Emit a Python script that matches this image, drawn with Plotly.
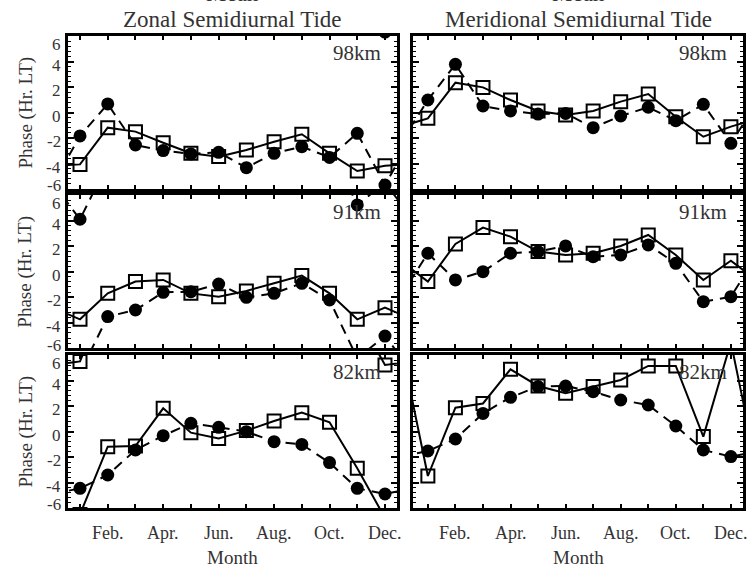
import plotly.graph_objects as go

# Monthly mean semidiurnal tidal phase (hours LT), unwrapped month to month.
# The phase repeats every 12 h, so the curves are also drawn shifted by +-12 h.
months = list(range(1, 13))
month_labels = ["", "Feb.", "", "Apr.", "", "Jun.", "", "Aug.", "", "Oct.", "", "Dec."]
phase_ticks = [6, 4, 2, 0, -2, -4, -6]

zonal_98_sq = [-4.07, -1.19, -1.50, -2.37, -3.20, -3.46, -2.94, -2.29, -1.71, -3.20, -4.59, -4.17]
zonal_98_ci = [-1.84, 0.67, -2.55, -2.99, -3.25, -3.12, -4.33, -3.20, -2.68, -3.52, -1.63, -5.69]
merid_98_sq = [-0.46, 2.34, 1.97, 0.98, 0.12, -0.20, 0.12, 0.85, 1.45, -0.33, -1.90, -1.11]
merid_98_ci = [0.98, 3.78, 0.51, 0.12, -0.12, -0.07, -1.19, -0.27, 0.41, -0.64, 0.64, -2.42]
zonal_91_sq = [-3.73, -1.70, -0.78, -0.65, -1.70, -1.96, -1.51, -0.91, -0.31, -1.70, -3.73, -2.82]
zonal_91_ci = [-7.90, -3.52, -3.00, -1.62, -1.57, -0.97, -2.01, -1.70, -0.91, -2.22, -6.78, -5.04]
merid_91_sq = [-0.78, 2.17, 3.45, 2.74, 1.57, 1.31, 1.44, 2.01, 2.87, 1.31, -0.65, 0.86]
merid_91_ci = [1.44, -0.65, 0.00, 1.44, 1.57, 2.01, 1.17, 1.31, 2.09, 0.65, -2.35, -1.96]
zonal_82_sq = [-6.50, -1.19, -1.14, 1.82, -0.09, -0.54, 0.07, 0.82, 1.48, 0.72, -2.89, -6.78]
zonal_82_ci = [-4.46, -3.41, -1.45, -0.33, 0.64, 0.33, -0.01, -0.80, -1.01, -2.44, -4.46, -4.90]
merid_82_sq = [-3.49, 1.87, 2.20, 4.88, 3.57, 3.00, 3.52, 4.04, 5.14, 5.14, -0.40, 7.00]
merid_82_ci = [-1.53, -0.59, 1.42, 2.68, 3.52, 3.57, 3.12, 2.47, 2.08, 0.43, -1.45, -1.97]

FULL = (-12, 0, 12)
# (row, col, height label, squares, circles, square copies, circle copies)
panels = [
    (1, 1, "98km", zonal_98_sq, zonal_98_ci, FULL, FULL),
    (1, 2, "98km", merid_98_sq, merid_98_ci, FULL, FULL),
    (2, 1, "91km", zonal_91_sq, zonal_91_ci, FULL, FULL),
    (2, 2, "91km", merid_91_sq, merid_91_ci, FULL, FULL),
    (3, 1, "82km", zonal_82_sq, zonal_82_ci, FULL, FULL),
    (3, 2, "82km", merid_82_sq, merid_82_ci, (0, 12), FULL),
]

W, H = 751, 568
FONT = "Liberation Serif"
INK = "#1a1a1a"
TEXT = "#333333"

col_px = {1: (68, 397), 2: (413, 743)}
col_range = {1: [0.567, 12.433], 2: [0.46, 12.44]}
row_px = {1: (36, 189), 2: (195, 348.3), 3: (355, 508)}


def px_x(p):
    return p / W


def px_y(p):
    return 1 - p / H


fig = go.Figure()
layout = dict(
    width=W, height=H,
    margin=dict(l=0, r=0, t=0, b=0),
    paper_bgcolor="white", plot_bgcolor="white",
    showlegend=False,
    font=dict(family=FONT, color=INK),
)
annotations = []


def extend(vals):
    # periodic in month: December precedes January, January follows December
    return [vals[-1]] + list(vals) + [vals[0]]


xs = [0] + months + [13]

for i, (r, c, label, sq, ci, sq_copies, ci_copies) in enumerate(panels, start=1):
    xa = "x" if i == 1 else f"x{i}"
    ya = "y" if i == 1 else f"y{i}"
    x0, x1 = col_px[c]
    y0, y1 = row_px[r]

    for off in sq_copies:
        fig.add_trace(go.Scatter(
            x=xs, y=[v + off for v in extend(sq)], xaxis=xa, yaxis=ya,
            mode="lines+markers",
            line=dict(color="black", width=2),
            marker=dict(symbol="square-open", size=13, color="black",
                        line=dict(width=2, color="black")),
            hoverinfo="skip",
        ))
    for off in ci_copies:
        fig.add_trace(go.Scatter(
            x=xs, y=[v + off for v in extend(ci)], xaxis=xa, yaxis=ya,
            mode="lines+markers",
            line=dict(color="black", width=2, dash="10px,7px"),
            marker=dict(symbol="circle", size=13, color="black"),
            hoverinfo="skip",
        ))

    axis_common = dict(
        showgrid=False, zeroline=False,
        showline=True, linecolor="black", linewidth=3, mirror="allticks",
        ticks="inside", tickcolor="black",
        showticklabels=False,
    )
    layout["xaxis" if i == 1 else f"xaxis{i}"] = dict(
        axis_common,
        domain=[px_x(x0), px_x(x1)],
        anchor=ya,
        range=col_range[c],
        tickvals=months,
        ticklen=4, tickwidth=1.5,
    )
    layout["yaxis" if i == 1 else f"yaxis{i}"] = dict(
        axis_common,
        domain=[px_y(y1), px_y(y0)],
        anchor=xa,
        range=[-6, 6],
        tickvals=phase_ticks,
        ticklen=6, tickwidth=1.5,
        minor=dict(ticks="inside", ticklen=3, tickwidth=1, dtick=0.4,
                   tick0=-6, tickcolor="black"),
    )

    # altitude label
    annotations.append(dict(
        text=label, showarrow=False,
        xref=f"{xa} domain", yref=f"{ya} domain", x=1, y=1,
        xanchor="right", yanchor="middle", xshift=-14, yshift=-17,
        font=dict(size=21, family=FONT, color=TEXT),
    ))

    if c == 1:
        # phase tick labels and axis title
        for v in phase_ticks:
            shift = -3.7
            if v == 6:
                shift = -8.6
            elif v == -6:
                shift = 3.2
            annotations.append(dict(
                text=str(v), showarrow=False,
                xref="paper", yref=ya, x=px_x(63), y=v,
                xanchor="right", yanchor="middle", yshift=shift,
                font=dict(size=17, family=FONT, color=TEXT),
            ))
        annotations.append(dict(
            text="Phase (Hr. LT)", showarrow=False, textangle=-90,
            xref="paper", yref=f"{ya} domain", x=px_x(25), y=0.5,
            xanchor="center", yanchor="middle",
            font=dict(size=19, family=FONT, color=TEXT),
        ))

    if r == 3:
        for m, t in zip(months, month_labels):
            if t:
                annotations.append(dict(
                    text=t, showarrow=False,
                    xref=xa, yref="paper", x=m, y=px_y(533),
                    xanchor="center", yanchor="middle",
                    font=dict(size=18, family=FONT, color=TEXT),
                ))
        annotations.append(dict(
            text="Month", showarrow=False,
            xref=f"{xa} domain", yref="paper", x=0.5, y=px_y(557),
            xanchor="center", yanchor="middle",
            font=dict(size=19, family=FONT, color=TEXT),
        ))

# column titles, with the "Mean" line above them running off the top edge
for c, title in ((1, "Zonal Semidiurnal Tide"), (2, "Meridional Semidiurnal Tide")):
    xc = px_x(sum(col_px[c]) / 2)
    annotations.append(dict(
        text=title, showarrow=False, xref="paper", yref="paper",
        x=xc, y=px_y(19), xanchor="center", yanchor="middle",
        font=dict(size=23, family=FONT, color=TEXT),
    ))
    annotations.append(dict(
        text="Mean", showarrow=False, xref="paper", yref="paper",
        x=xc, y=px_y(-6), xanchor="center", yanchor="middle",
        font=dict(size=23, family=FONT, color=TEXT),
    ))

layout["annotations"] = annotations
fig.update_layout(**layout)
fig.write_html("out.html")
